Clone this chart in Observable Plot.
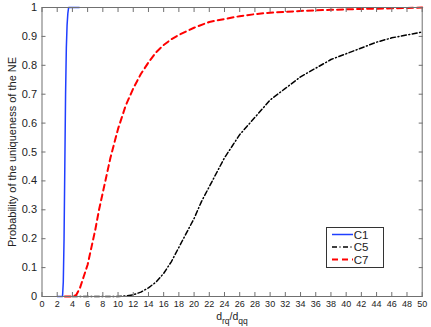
<!DOCTYPE html>
<html><head><meta charset="utf-8">
<script src="https://cdn.jsdelivr.net/npm/d3@7"></script>
<script src="https://cdn.jsdelivr.net/npm/@observablehq/plot@0.6"></script>
<style>
body{margin:0;background:#fff}
#chart{position:relative;width:431px;height:327px;font-family:"Liberation Sans",Arial,sans-serif}
</style>
</head><body><div id="chart"></div>
<script>
// C1 (blue, solid)
const c1X = [2, 2.5, 2.7, 2.8, 2.9, 3.0, 3.1, 3.2, 3.3, 3.4, 3.5, 4.0, 4.9];
const c1Y = [0, 0, 0, 0.05, 0.2, 0.45, 0.7, 0.86, 0.94, 0.98, 1, 1, 1];
// C5 (black, dash-dot)
const c5X = [4, 6, 8, 10, 11, 12, 13, 14, 15, 16, 17, 18, 19, 20, 21, 22, 23, 24, 25, 26, 27, 28, 30, 32, 34, 36, 38, 40, 42, 44, 46, 48, 50];
const c5Y = [0, 0, 0, 0, 0.002, 0.006, 0.015, 0.03, 0.05, 0.08, 0.12, 0.17, 0.22, 0.27, 0.33, 0.38, 0.43, 0.48, 0.52, 0.56, 0.59, 0.62, 0.68, 0.72, 0.76, 0.79, 0.82, 0.84, 0.86, 0.88, 0.895, 0.905, 0.915];
// C7 (red, dashed)
const c7X = [3, 4, 4.5, 5, 5.5, 6, 6.5, 7, 7.5, 8, 8.5, 9, 9.5, 10, 11, 12, 13, 14, 15, 16, 17, 18, 20, 22, 24, 26, 28, 30, 34, 38, 42, 46, 50];
const c7Y = [0, 0, 0.005, 0.03, 0.07, 0.11, 0.17, 0.23, 0.3, 0.36, 0.42, 0.48, 0.53, 0.58, 0.66, 0.72, 0.77, 0.81, 0.845, 0.87, 0.89, 0.905, 0.93, 0.95, 0.96, 0.97, 0.977, 0.982, 0.988, 0.992, 0.995, 0.997, 1];
const xTicks = d3.range(0, 51, 2);
const yTicks = d3.range(0, 11).map(d => d / 10);
const seriesNames = ["C1", "C5", "C7"];
const seriesColors = ["#1f3fff", "#000000", "#ff0000"];
const seriesDash = [null, "5,2.5,1,2.5", "6,4"];
const seriesWidth = [1.5, 1.5, 2];

const toRows = (xs, ys) => xs.map((x, i) => ({x, y: ys[i]}));
const rows = [toRows(c1X, c1Y), toRows(c5X, c5Y), toRows(c7X, c7Y)];

const axisColor = "#707070";
const plot = Plot.plot({
  width: 431, height: 327,
  marginLeft: 41.5, marginRight: 9.3, marginTop: 7, marginBottom: 31,
  style: {fontFamily: '"Liberation Sans", Arial, sans-serif', fontSize: "9px", color: "#222", background: "#fff"},
  x: {domain: [0, 50]},
  y: {domain: [0, 1]},
  marks: [
    ...rows.map((r, i) => Plot.line(r, {x: "x", y: "y", stroke: seriesColors[i], strokeWidth: seriesWidth[i], strokeDasharray: seriesDash[i]})),
    Plot.frame({stroke: axisColor, strokeWidth: 1}),
    Plot.axisX({anchor: "bottom", ticks: xTicks, tickSize: 0, tickPadding: 4, tickFormat: d => d, label: null}),
    Plot.axisX({anchor: "bottom", ticks: xTicks, tickSize: -4, text: null, label: null, stroke: axisColor}),
    Plot.axisX({anchor: "top", ticks: xTicks, tickSize: -4, text: null, label: null, stroke: axisColor}),
    Plot.axisY({anchor: "left", ticks: yTicks, tickSize: 0, tickPadding: 5, tickFormat: d => d, label: "Probability of the uniqueness of the NE", labelAnchor: "center", labelArrow: "none", labelOffset: 34, fontSize: "11px"}),
    Plot.axisY({anchor: "left", ticks: yTicks, tickSize: -4, text: null, label: null, stroke: axisColor}),
    Plot.axisY({anchor: "right", ticks: yTicks, tickSize: -4, text: null, label: null, stroke: axisColor})
  ]
});
document.getElementById("chart").appendChild(plot);

const svg = d3.select(plot);
// x axis label with subscripts
const xl = svg.append("text").attr("x", 232).attr("y", 319.5).attr("text-anchor", "middle")
  .attr("font-size", "10.5px").attr("fill", "#222");
xl.append("tspan").text("d");
xl.append("tspan").attr("font-size", "8.5px").attr("dy", 4).text("rq");
xl.append("tspan").attr("dy", -4).text("/d");
xl.append("tspan").attr("font-size", "8.5px").attr("dy", 4).text("qq");

// legend box
const lg = svg.append("g");
lg.append("rect").attr("x", 326.5).attr("y", 227.5).attr("width", 57).attr("height", 40)
  .attr("fill", "#fff").attr("stroke", "#333").attr("stroke-width", 1);
seriesNames.forEach((n, i) => {
  const cy = 234.5 + i * 12.5;
  lg.append("line").attr("x1", 332).attr("x2", 353).attr("y1", cy).attr("y2", cy)
    .attr("stroke", seriesColors[i]).attr("stroke-width", seriesWidth[i])
    .attr("stroke-dasharray", seriesDash[i]);
  lg.append("text").attr("x", 361).attr("y", cy).attr("dy", "0.36em")
    .attr("font-size", "11.5px").attr("fill", "#222").text(n);
});
</script>
</body></html>
